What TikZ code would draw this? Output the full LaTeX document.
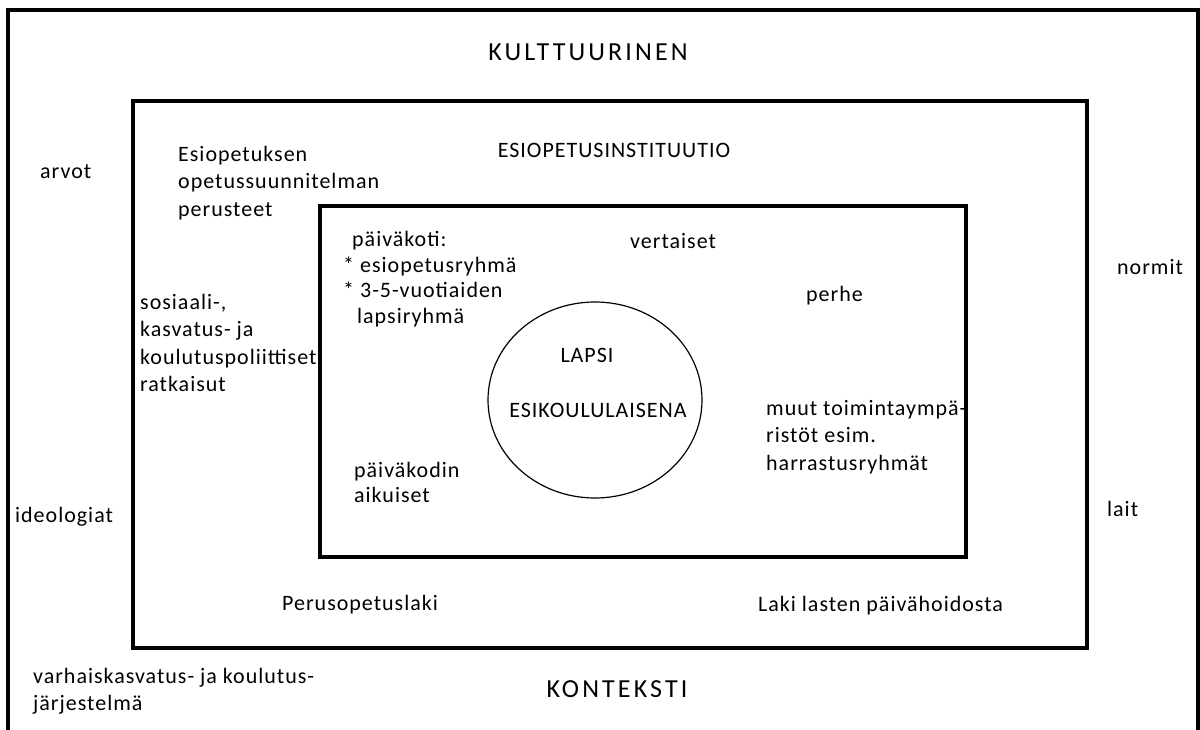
\documentclass[tikz,border=0pt]{standalone}
\usepackage{fontspec}
\setmainfont{Carlito}[LetterSpace=4.5]
\newfontfamily\ttlfont{Carlito}[LetterSpace=12]
\usepackage{tikz}
\usetikzlibrary{positioning}

\begin{document}
\begin{tikzpicture}[x=1pt,y=-1pt,
  txt/.style={inner sep=0,anchor=west,align=left,font=\fontsize{22}{27.5}\selectfont},
  ttl/.style={inner sep=0,font=\ttlfont\fontsize{26}{32}\selectfont},
  frame/.style={line width=4.5pt,line join=miter}]
\useasboundingbox (0,0) rectangle (1200,730);
% kehykset
\draw[frame] (8,740)--(8,10)--(1198,10)--(1198,740);
\draw[frame] (133,101) rectangle (1087,648);
\draw[frame] (320,206) rectangle (966,557);
\draw[line width=1.2pt] (595,400) ellipse (107 and 98);
% ulkokehys
\node[ttl](kult) at (588,52){KULTTUURINEN};
\node[ttl](kont) at (617,689){KONTEKSTI};
\node[txt](arvot) at (40,172){arvot};
\node[txt](ideo) at (15,517){ideologiat};
\node[txt](normit) at (1117,267){normit};
\node[txt](lait) at (1107,509){lait};
\node[txt](jarj) at (33,691){varhaiskasvatus- ja koulutus-\\järjestelmä};
% instituutio
\node[txt,anchor=center](inst) at (614,150){ESIOPETUSINSTITUUTIO};
\node[txt](ops) at (178,183){Esiopetuksen\\opetussuunnitelman\\perusteet};
\node[txt](pol) at (140,343){sosiaali-,\\kasvatus- ja\\koulutuspoliittiset\\ratkaisut};
\node[txt](polaki) at (282,605){Perusopetuslaki};
\node[txt](phlaki) at (758,606){Laki lasten päivähoidosta};
% lähiympäristö
\node[txt,font=\fontsize{22}{25.7}\selectfont](pk) at (343,279){\hspace{9pt}päiväkoti:\\{*} esiopetusryhmä\\{*} 3-5-vuotiaiden\\\hspace{14pt}lapsiryhmä};
\node[txt](vert) at (630,241){vertaiset};
\node[txt](perhe) at (806,296){perhe};
\node[txt](muut) at (766,437){muut toimintaympä-\\ristöt esim.\\harrastusryhmät};
\node[txt,font=\fontsize{22}{25}\selectfont](aik) at (354,482){päiväkodin\\aikuiset};
\node[txt,anchor=center](lapsi) at (587,355){LAPSI};
\node[txt,anchor=center](eskari) at (598,410){ESIKOULULAISENA};
\end{tikzpicture}
\end{document}
